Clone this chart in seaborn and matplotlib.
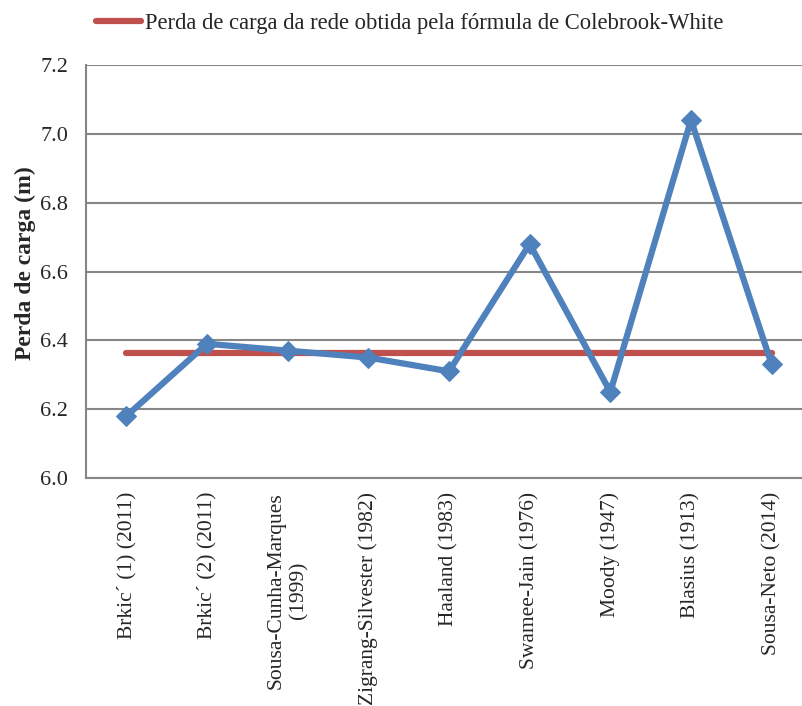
import matplotlib
matplotlib.use("Agg")
import matplotlib.pyplot as plt
import seaborn as sns
import numpy as np

categories = ["Brkic\u00b4 (1) (2011)", "Brkic\u00b4 (2) (2011)", "Sousa-Cunha-Marques\n(1999)",
              "Zigrang-Silvester (1982)", "Haaland (1983)", "Swamee-Jain (1976)",
              "Moody (1947)", "Blasius (1913)", "Sousa-Neto (2014)"]
values = [6.18, 6.39, 6.37, 6.35, 6.31, 6.68, 6.25, 7.04, 6.33]
reference_value = 6.362
reference_label = "Perda de carga da rede obtida pela f\u00f3rmula de Colebrook-White"
y_ticks = [6.0, 6.2, 6.4, 6.6, 6.8, 7.0, 7.2]

sns.set_theme(style="white")
plt.rcParams['font.family'] = ['Liberation Serif', 'DejaVu Serif']

W, H = 803, 706
fig = plt.figure(figsize=(W / 100, H / 100), dpi=100)
left, right, top, bottom = 86, 812, 65, 478
ax = fig.add_axes([left / W, 1 - bottom / H, (right - left) / W, (bottom - top) / H])

x = np.arange(len(categories))
sns.lineplot(x=x, y=[reference_value] * len(x), ax=ax, color="#C0504D", linewidth=4.5,
             label=reference_label, solid_capstyle="round", zorder=2)
sns.lineplot(x=x, y=values, ax=ax, color="#4F81BD", linewidth=4.5, marker="D",
             markersize=10, markeredgecolor="#4F81BD", zorder=3, legend=False)

ax.set_xlim(-0.5, len(categories) - 0.5)
ax.set_ylim(6.0, 7.2)
ax.set_yticks(y_ticks)
ax.set_yticklabels([f"{t:.1f}" for t in y_ticks], fontsize=16)
ax.set_xticks(x)
ax.set_xticklabels(categories, rotation=90, fontsize=15.5, va="top", ha="center",
                   multialignment="center")
ax.tick_params(axis="y", length=0, pad=13)
ax.tick_params(axis="x", length=0, pad=10)
ax.grid(axis="y", color="#868686", linewidth=1.5)
ax.set_axisbelow(True)
for s in ["top", "right"]:
    ax.spines[s].set_visible(False)
for s in ["left", "bottom"]:
    ax.spines[s].set_color("#868686")
    ax.spines[s].set_linewidth(1.5)
ax.set_xlabel("")
ax.set_ylabel("Perda de carga (m)", fontsize=17, fontweight="bold")
ax.yaxis.set_label_coords(-(left - 36) / (right - left), (bottom - 263) / (bottom - top))

leg = ax.legend(loc="center left", bbox_to_anchor=(96 / W, 1 - 23 / H),
                bbox_transform=fig.transFigure, frameon=False, fontsize=16.3,
                handlelength=2.0, handletextpad=0.15, borderaxespad=0, borderpad=0)

fig.savefig("out.png", dpi=100)
